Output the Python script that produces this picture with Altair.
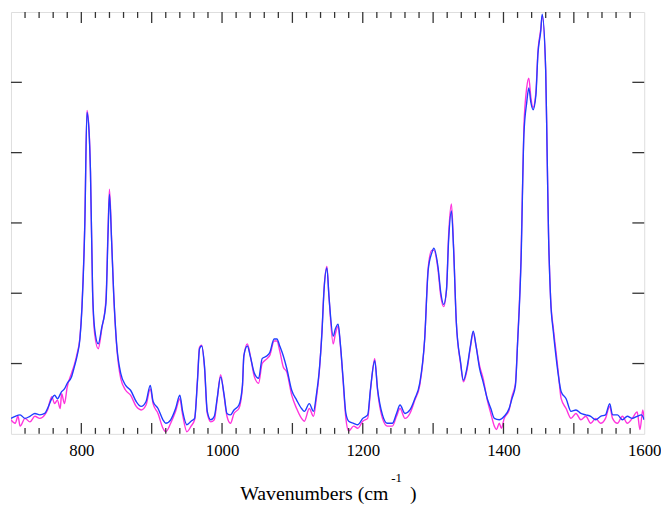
import altair as alt
import pandas as pd

# ---- data (intensity in arbitrary units, 0-6) ----
blue_wn = [700, 706, 713, 720, 727, 734, 741, 748, 752, 758, 762, 766, 772, 776, 780, 786, 790, 794, 798, 801,
           805, 808, 811, 813, 816, 819, 824, 829, 835, 838, 840, 843, 846, 850, 856, 863, 870, 878, 885, 892,
           898, 902, 909, 916, 920, 927, 934, 940, 944, 950, 956, 961, 965, 968, 971, 975, 979, 984, 989, 993,
           998, 1003, 1007, 1012, 1017, 1024, 1029, 1031, 1036, 1040, 1046, 1052, 1057, 1064, 1068, 1074, 1078,
           1082, 1087, 1092, 1099, 1106, 1113, 1117, 1124, 1130, 1134, 1138, 1142, 1145, 1149, 1152, 1158, 1161,
           1165, 1168, 1172, 1176, 1180, 1187, 1193, 1200, 1207, 1211, 1217, 1221, 1228, 1235, 1242, 1248, 1253,
           1260, 1267, 1274, 1281, 1288, 1293, 1298, 1301, 1307, 1311, 1315, 1319, 1322, 1326, 1329, 1333, 1339,
           1343, 1348, 1353, 1357, 1361, 1366, 1371, 1377, 1382, 1387, 1394, 1401, 1408, 1412, 1417, 1420, 1425,
           1429, 1433, 1436, 1439, 1442, 1446, 1449, 1453, 1455, 1460, 1462, 1464, 1467, 1471, 1475, 1478, 1482,
           1489, 1496, 1503, 1510, 1517, 1524, 1531, 1538, 1545, 1551, 1555, 1562, 1569, 1576, 1583, 1590, 1596, 1600]
blue_val = [0.22, 0.25, 0.27, 0.22, 0.25, 0.29, 0.27, 0.29, 0.36, 0.50, 0.55, 0.50, 0.60, 0.64, 0.72, 0.81, 0.95, 1.11, 1.35, 1.81,
            2.99, 4.57, 4.29, 3.73, 2.05, 1.49, 1.28, 1.51, 1.86, 2.85, 3.41, 2.75, 2.00, 1.30, 0.86, 0.69, 0.62, 0.46, 0.39, 0.46,
            0.69, 0.46, 0.36, 0.20, 0.15, 0.20, 0.36, 0.55, 0.32, 0.13, 0.18, 0.22, 0.74, 1.21, 1.25, 0.97, 0.32, 0.20, 0.25, 0.50,
            0.81, 0.55, 0.29, 0.27, 0.34, 0.41, 0.69, 1.11, 1.25, 1.11, 0.86, 0.79, 1.07, 1.11, 1.16, 1.35, 1.35,
            1.25, 1.11, 0.93, 0.62, 0.48, 0.36, 0.32, 0.43, 0.32, 0.55, 0.88, 1.44, 2.05, 2.36, 1.95, 1.39, 1.49,
            1.56, 1.30, 0.79, 0.29, 0.18, 0.15, 0.13, 0.22, 0.27, 0.64, 1.04, 0.64, 0.27, 0.15, 0.15, 0.29, 0.41,
            0.29, 0.34, 0.50, 0.72, 1.35, 2.33, 2.57, 2.64, 2.37, 2.00, 1.84, 2.05, 2.75, 3.17, 2.65, 1.58, 1.02,
            0.76, 0.93, 1.25, 1.46, 1.25, 0.93, 0.74, 0.50, 0.36, 0.22, 0.20, 0.25, 0.36, 0.50, 0.69, 1.28, 2.47,
            4.25, 4.71, 4.92, 4.71, 4.61, 4.81, 5.41, 5.73, 5.97, 5.17, 4.01, 2.85, 1.91, 1.44, 1.07, 0.83, 0.60,
            0.50, 0.32, 0.34, 0.29, 0.27, 0.25, 0.20, 0.25, 0.27, 0.43, 0.27, 0.27, 0.20, 0.25, 0.22, 0.25, 0.27, 0.20]

pink_wn = [700, 706, 710, 713, 720, 727, 734, 741, 748, 752, 758, 762, 766, 770, 772, 776, 780, 786, 790, 794, 798, 801,
           805, 808, 811, 813, 816, 819, 824, 829, 835, 838, 840, 843, 846, 850, 856, 863, 870, 878, 885, 892,
           898, 902, 909, 916, 920, 927, 934, 940, 944, 950, 956, 961, 965, 968, 971, 975, 979, 984, 989, 993,
           998, 1003, 1007, 1012, 1017, 1024, 1029, 1031, 1036, 1040, 1046, 1052, 1057, 1064, 1068, 1074, 1078,
           1082, 1087, 1092, 1099, 1106, 1113, 1117, 1124, 1130, 1134, 1138, 1142, 1145, 1149, 1152, 1158, 1161,
           1165, 1168, 1172, 1176, 1180, 1187, 1193, 1200, 1207, 1211, 1217, 1221, 1228, 1235, 1242, 1248, 1253,
           1260, 1267, 1274, 1281, 1288, 1293, 1298, 1301, 1307, 1311, 1315, 1319, 1322, 1326, 1329, 1333, 1339,
           1343, 1348, 1353, 1357, 1361, 1366, 1371, 1377, 1382, 1387, 1390, 1394, 1397, 1401, 1408, 1412, 1417, 1420, 1425,
           1429, 1433, 1436, 1439, 1442, 1446, 1449, 1453, 1455, 1460, 1462, 1464, 1467, 1471, 1475, 1478, 1482,
           1489, 1496, 1503, 1510, 1517, 1524, 1531, 1538, 1545, 1551, 1555, 1562, 1569, 1576, 1583, 1590, 1594, 1598, 1600]
pink_val = [0.20, 0.15, 0.25, 0.11, 0.22, 0.17, 0.25, 0.22, 0.27, 0.34, 0.53, 0.43, 0.48, 0.36, 0.57, 0.43, 0.67, 0.86, 0.98, 1.14, 1.37, 1.84,
            3.03, 4.60, 4.32, 3.73, 2.02, 1.42, 1.21, 1.49, 1.91, 2.92, 3.48, 2.78, 1.98, 1.28, 0.79, 0.62, 0.55, 0.39, 0.34, 0.41,
            0.64, 0.43, 0.29, 0.08, 0.03, 0.15, 0.32, 0.50, 0.27, 0.03, 0.11, 0.20, 0.76, 1.23, 1.26, 0.95, 0.29, 0.17, 0.20, 0.48,
            0.84, 0.53, 0.25, 0.15, 0.29, 0.36, 0.67, 1.11, 1.28, 1.12, 0.81, 0.72, 1.00, 1.07, 1.12, 1.32, 1.32,
            1.18, 0.95, 0.88, 0.55, 0.36, 0.22, 0.18, 0.36, 0.25, 0.50, 0.86, 1.46, 2.07, 2.38, 1.95, 1.28, 1.42,
            1.53, 1.28, 0.76, 0.22, 0.04, 0.11, 0.08, 0.18, 0.22, 0.62, 1.07, 0.62, 0.22, 0.11, 0.11, 0.25, 0.36,
            0.22, 0.29, 0.48, 0.69, 1.35, 2.36, 2.61, 2.61, 2.33, 1.95, 1.81, 2.05, 2.82, 3.27, 2.68, 1.58, 1.00,
            0.74, 0.90, 1.23, 1.44, 1.25, 0.97, 0.79, 0.48, 0.29, 0.11, 0.06, 0.15, 0.08, 0.22, 0.34, 0.53, 0.72, 1.30, 2.54,
            4.36, 4.92, 5.06, 4.78, 4.64, 4.85, 5.44, 5.76, 5.94, 5.17, 4.01, 2.85, 1.93, 1.49, 1.14, 0.86, 0.50,
            0.36, 0.22, 0.29, 0.20, 0.25, 0.15, 0.22, 0.15, 0.22, 0.39, 0.22, 0.15, 0.25, 0.15, 0.22, 0.31, 0.06, 0.34, 0.20]

x_labels = [800, 1000, 1200, 1400, 1600]
x_major = list(range(800, 1600, 100))
x_minor = [v for v in range(720, 1600, 20) if v % 100 != 0]
y_major = [1, 2, 3, 4, 5]

W, H = 641, 427
SERIF = "'Liberation Serif', 'Times New Roman', 'DejaVu Serif', serif"
TICK = "#333333"

xs = alt.Scale(domain=[700, 1600], nice=False, zero=False)
ys = alt.Scale(domain=[0, 6], nice=False, zero=True)

pink = alt.Chart(pd.DataFrame({"wn": pink_wn, "val": pink_val})).mark_line(
    color="#ff33dd", strokeWidth=1.4, clip=True, interpolate="monotone"
).encode(
    x=alt.X("wn:Q", scale=xs,
            axis=alt.Axis(values=x_labels, format="d", ticks=False, domain=False, grid=False,
                          labelFont=SERIF, labelFontSize=17, labelColor="#000000",
                          labelPadding=9, labelFlush=False, title=None)),
    y=alt.Y("val:Q", scale=ys, axis=None),
)

blue = alt.Chart(pd.DataFrame({"wn": blue_wn, "val": blue_val})).mark_line(
    color="#1f3dff", strokeWidth=1.4, clip=True, interpolate="monotone"
).encode(
    x=alt.X("wn:Q", scale=xs),
    y=alt.Y("val:Q", scale=ys),
)


def xticks(vals, y0, y1):
    return alt.Chart(pd.DataFrame({"wn": vals})).mark_rule(color=TICK, strokeWidth=1.3).encode(
        x=alt.X("wn:Q", scale=xs), y=alt.value(y0), y2=alt.value(y1)
    )


def yticks(vals, x0, x1):
    return alt.Chart(pd.DataFrame({"val": vals})).mark_rule(color=TICK, strokeWidth=1.3).encode(
        y=alt.Y("val:Q", scale=ys), x=alt.value(x0), x2=alt.value(x1)
    )


ticks = [
    xticks(x_major, H, H - 11), xticks(x_minor, H, H - 6),
    xticks(x_major, 0, 11), xticks(x_minor, 0, 6),
    yticks(y_major, 0, 11), yticks(y_major, W, W - 12),
]

title_df = pd.DataFrame({"t": [0]})
t_main = alt.Chart(title_df).mark_text(
    text="Wavenumbers (cm", font=SERIF, fontSize=20, align="right", baseline="middle", color="#000000"
).encode(x=alt.value(382), y=alt.value(488))
t_sup = alt.Chart(title_df).mark_text(
    text="-1", font=SERIF, fontSize=13, align="left", baseline="middle", color="#000000"
).encode(x=alt.value(385), y=alt.value(472))
t_close = alt.Chart(title_df).mark_text(
    text=")", font=SERIF, fontSize=20, align="left", baseline="middle", color="#000000"
).encode(x=alt.value(404), y=alt.value(488))

chart = alt.layer(pink, blue, *ticks, t_main, t_sup, t_close).properties(
    width=W, height=H,
    autosize=alt.AutoSizeParams(type="none"),
    padding={"left": 3, "top": 1, "right": 17, "bottom": 73},
).configure_view(stroke="#3a3a3a", strokeWidth=1.5).configure(background="white")

chart.save("out.html", embed_options={"renderer": "svg", "actions": False})
